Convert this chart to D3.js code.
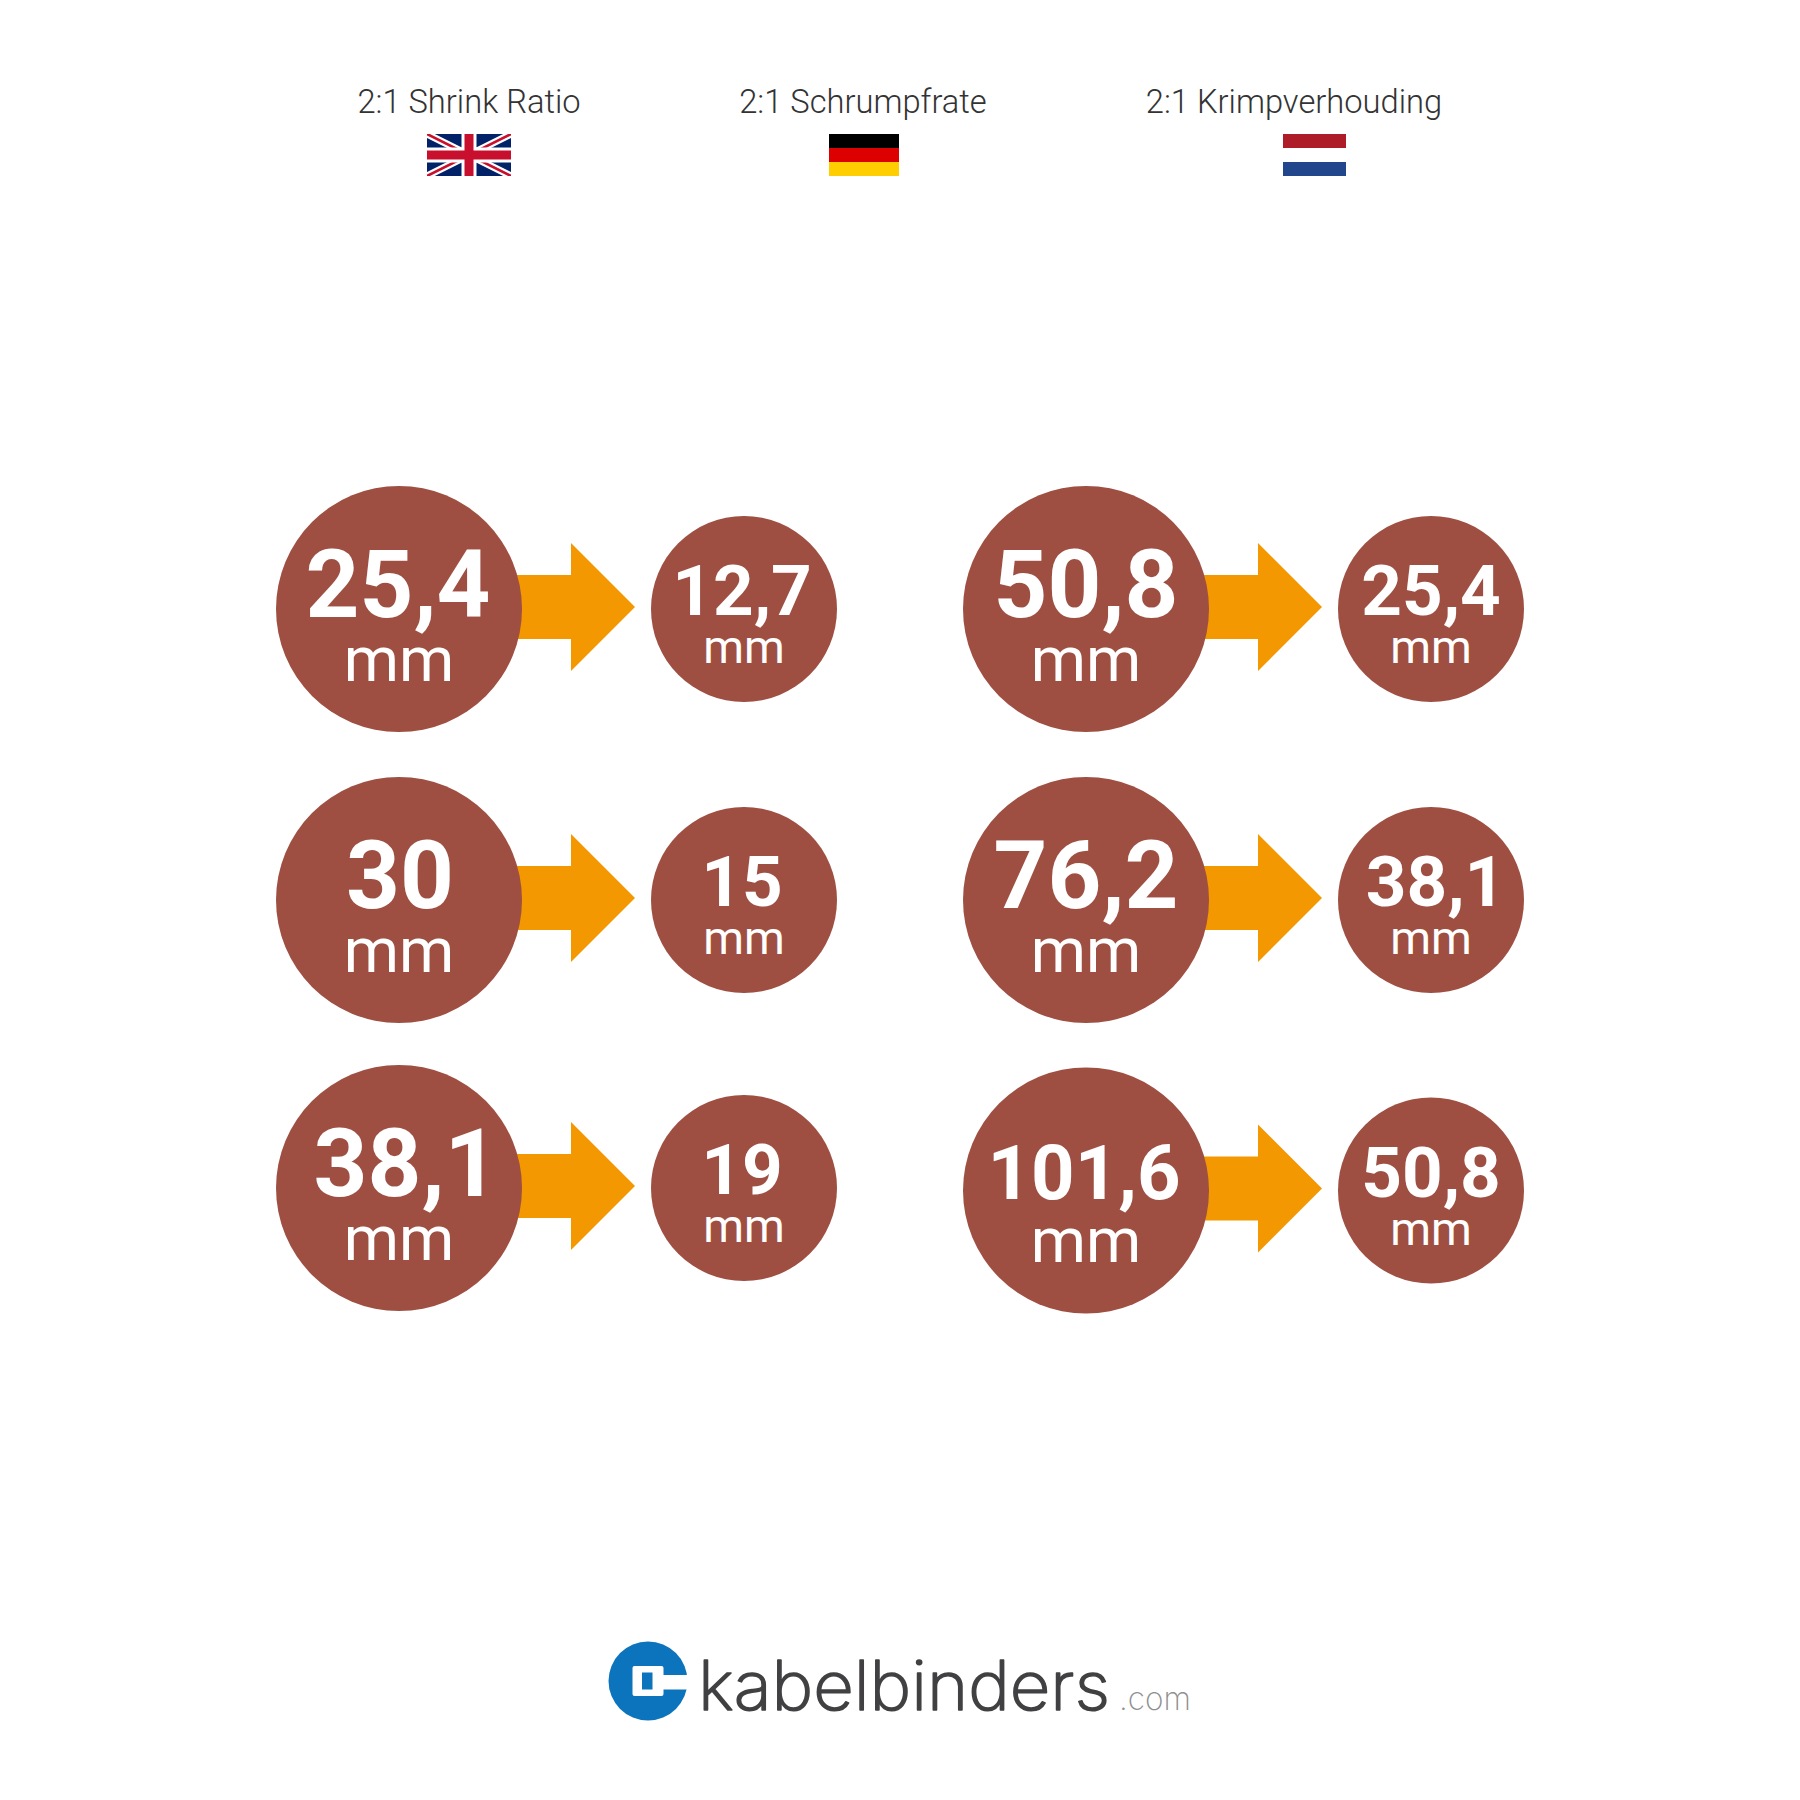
<!DOCTYPE html>
<html>
<head>
<meta charset="utf-8">
<script src="https://cdn.jsdelivr.net/npm/d3@7"></script>
<style>
  html, body { margin: 0; padding: 0; background: #fff; }
  text { font-family: Roboto, sans-serif; }
</style>
</head>
<body>
<div id="chart"></div>
<script>
// Chart data
const languages = ["2:1 Shrink Ratio", "2:1 Schrumpfrate", "2:1 Krimpverhouding"];
const beforeLeft = ["25,4", "30", "38,1"];
const afterLeft = ["12,7", "15", "19"];
const beforeRight = ["50,8", "76,2", "101,6"];
const afterRight = ["25,4", "38,1", "50,8"];
const unit = "mm";
const brandName = "kabelbinders";
const brandTld = ".com";

const width = 1800, height = 1800;
const circleColor = "#9e4f42", arrowColor = "#f39800";

const svg = d3.select("#chart").append("svg")
  .attr("width", width)
  .attr("height", height)
  .style("display", "block");

// Layout scales
const colX = d3.scaleOrdinal([0, 1], [399, 1086]);
const rowY = d3.scaleOrdinal([0, 1, 2], [609, 900, 1188]);
const headerX = d3.scaleOrdinal(languages, [469, 863, 1294]);

// Language headers
svg.append("g").selectAll("text")
  .data(languages)
  .join("text")
  .attr("x", d => headerX(d))
  .attr("y", 112.5)
  .attr("text-anchor", "middle")
  .attr("font-size", 32.7)
  .attr("font-weight", 350)
  .attr("fill", "#333")
  .text(d => d);

// Flags
const flagTop = 134, flagH = 42;
function stripes(x, w, colors) {
  const band = d3.scaleBand().domain(colors.map((c, i) => i)).range([flagTop, flagTop + flagH]);
  svg.append("g").selectAll("rect")
    .data(colors)
    .join("rect")
    .attr("x", x)
    .attr("y", (c, i) => band(i))
    .attr("width", w)
    .attr("height", band.bandwidth())
    .attr("fill", c => c);
}
stripes(829, 70, ["#000", "#dd0000", "#ffce00"]);
stripes(1283, 63, ["#ae1c28", "#fff", "#21468b"]);

// Union Jack
const uk = svg.append("g").attr("transform", `translate(427,${flagTop})`);
const ukW = 84, ukH = 42;
svg.append("clipPath").attr("id", "uk-clip").append("rect").attr("width", ukW).attr("height", ukH);
uk.attr("clip-path", "url(#uk-clip)");
uk.append("rect").attr("width", ukW).attr("height", ukH).attr("fill", "#012169");
const diag = `M0,0L${ukW},${ukH}M${ukW},0L0,${ukH}`;
uk.append("path").attr("d", diag).attr("stroke", "#fff").attr("stroke-width", 7);
uk.append("path").attr("d", diag).attr("stroke", "#c8102e").attr("stroke-width", 2.6);
const cross = `M${ukW / 2},0V${ukH}M0,${ukH / 2}H${ukW}`;
uk.append("path").attr("d", cross).attr("stroke", "#fff").attr("stroke-width", 15);
uk.append("path").attr("d", cross).attr("stroke", "#c8102e").attr("stroke-width", 9);

// Flatten values into one row per conversion
const pairs = [];
[[beforeLeft, afterLeft], [beforeRight, afterRight]].forEach((col, c) => {
  col[0].forEach((v, r) => pairs.push({ c, r, before: v, after: col[1][r] }));
});

const bigR = 123, smallR = 93, smallDx = 345;
const yOf = d => rowY(d.r) + (d.c === 1 && d.r === 2 ? 2.5 : 0);

// Horizontal optical tweaks, the labels are not quite centred in the reference
const bigNudge = { "25,4": -1, "30": 1, "38,1": 7, "101,6": -2 };
const smallNudge = { "12,7": -2, "15": -2, "19": -2, "38,1": 4.5 };

const pair = svg.append("g").selectAll("g")
  .data(pairs)
  .join("g")
  .attr("transform", d => `translate(${colX(d.c)},${yOf(d)})`);

// Arrow sits behind the circles
const arrowPath = d3.path();
arrowPath.moveTo(110, -34);
arrowPath.lineTo(172, -34);
arrowPath.lineTo(172, -66);
arrowPath.lineTo(236, -2);
arrowPath.lineTo(172, 62);
arrowPath.lineTo(172, 30);
arrowPath.lineTo(110, 30);
arrowPath.closePath();
pair.append("path").attr("d", arrowPath.toString()).attr("fill", arrowColor);

pair.append("circle").attr("r", bigR).attr("fill", circleColor);
pair.append("circle").attr("cx", smallDx).attr("r", smallR).attr("fill", circleColor);

pair.append("text")
  .attr("x", d => bigNudge[d.before] || 0)
  .attr("y", 8)
  .attr("text-anchor", "middle")
  .attr("font-size", d => d.before.length > 4 ? 76 : 94)
  .attr("font-weight", 700)
  .attr("fill", "#fff")
  .text(d => d.before);
pair.append("text")
  .attr("y", 71.5)
  .attr("text-anchor", "middle")
  .attr("font-size", 63)
  .attr("fill", "#fff")
  .text(unit);
pair.append("text")
  .attr("x", d => smallDx + (smallNudge[d.after] || 0))
  .attr("y", 6)
  .attr("text-anchor", "middle")
  .attr("font-size", 71)
  .attr("font-weight", 700)
  .attr("fill", "#fff")
  .text(d => d.after);
pair.append("text")
  .attr("x", smallDx)
  .attr("y", 54)
  .attr("text-anchor", "middle")
  .attr("font-size", 46.5)
  .attr("fill", "#fff")
  .text(unit);

// Logo
const logo = svg.append("g");
const logoBlue = "#0b74bd";
logo.append("circle").attr("cx", 648).attr("cy", 1681).attr("r", 39.5).attr("fill", logoBlue);
logo.append("rect").attr("x", 632.5).attr("y", 1666).attr("width", 31).attr("height", 30).attr("rx", 2).attr("fill", "#fff");
logo.append("rect").attr("x", 660).attr("y", 1675).attr("width", 30).attr("height", 14.5).attr("fill", "#fff");
logo.append("rect").attr("x", 642).attr("y", 1672.5).attr("width", 10.5).attr("height", 17).attr("fill", logoBlue);

logo.append("text")
  .attr("x", 698)
  .attr("y", 1710)
  .attr("textLength", 412)
  .attr("lengthAdjust", "spacingAndGlyphs")
  .attr("font-size", 68)
  .attr("font-weight", 200)
  .attr("fill", "#414042")
  .attr("stroke", "#414042")
  .attr("stroke-width", 1.6)
  .attr("stroke-linejoin", "round")
  .style("font-family", "Inter, sans-serif")
  .text(brandName);
logo.append("text")
  .attr("x", 1119)
  .attr("y", 1710)
  .attr("textLength", 72)
  .attr("lengthAdjust", "spacingAndGlyphs")
  .attr("font-size", 33)
  .attr("font-weight", 200)
  .attr("fill", "#8f8f8f")
  .style("font-family", "Inter, sans-serif")
  .text(brandTld);
</script>
</body>
</html>
